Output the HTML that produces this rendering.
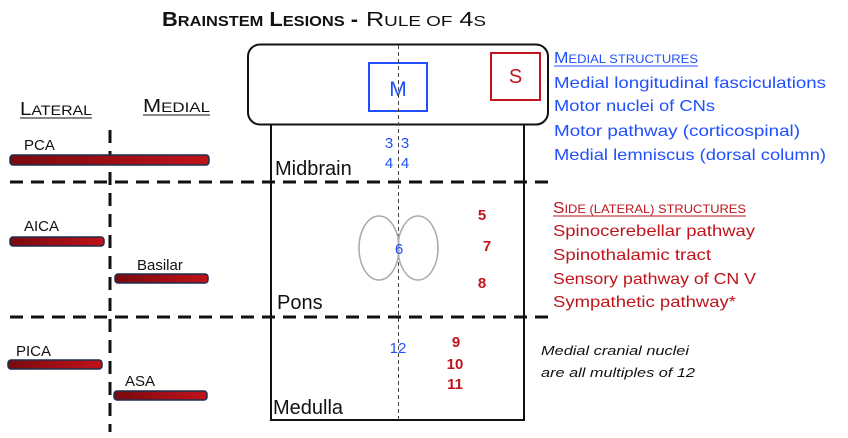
<!DOCTYPE html>
<html><head><meta charset="utf-8"><style>
html,body{margin:0;padding:0;background:#fff;}
svg{display:block;font-family:"Liberation Sans",sans-serif;}
</style></head><body>
<svg width="848" height="438" viewBox="0 0 848 438" xmlns="http://www.w3.org/2000/svg">
<defs>
<linearGradient id="g" x1="0" x2="1"><stop offset="0" stop-color="#7a0a0e"/><stop offset="1" stop-color="#c0121a"/></linearGradient>
</defs>
<!-- title -->
<text x="162" y="26" font-size="20" font-weight="bold" fill="#111" textLength="196" lengthAdjust="spacingAndGlyphs">B<tspan font-size="15">RAINSTEM</tspan> L<tspan font-size="15">ESIONS</tspan> -</text>
<text x="366" y="26" font-size="20" fill="#111" textLength="120" lengthAdjust="spacingAndGlyphs">R<tspan font-size="15">ULE OF</tspan> 4<tspan font-size="15">S</tspan></text>

<!-- rounded top box -->
<rect x="248" y="44.5" width="300" height="80" rx="12" fill="none" stroke="#111" stroke-width="2"/>
<rect x="369" y="63" width="58" height="48" fill="none" stroke="#1f4fff" stroke-width="2"/>
<text x="398" y="96" font-size="21" fill="#1f4fff" text-anchor="middle">M</text>
<rect x="491" y="53" width="49" height="47" fill="none" stroke="#c0141c" stroke-width="2"/>
<text x="515.5" y="83" font-size="20" fill="#c0141c" text-anchor="middle">S</text>

<!-- main box -->
<path d="M271 125 V420 H524 V125" fill="none" stroke="#111" stroke-width="2"/>
<!-- center dashed -->
<line x1="398.5" y1="45" x2="398.5" y2="420" stroke="#444" stroke-width="1" stroke-dasharray="4,3"/>

<!-- horizontal dashed -->
<line x1="10" y1="182" x2="548" y2="182" stroke="#111" stroke-width="3" stroke-dasharray="13,8"/>
<line x1="10" y1="317" x2="548" y2="317" stroke="#111" stroke-width="3" stroke-dasharray="13,8"/>
<!-- vertical dashed -->
<line x1="110" y1="130" x2="110" y2="432" stroke="#111" stroke-width="3" stroke-dasharray="13,8"/>

<!-- labels lateral/medial -->
<text x="20" y="115" font-size="18" fill="#111" textLength="72" lengthAdjust="spacingAndGlyphs">L<tspan font-size="14">ATERAL</tspan></text>
<line x1="20" y1="118" x2="92" y2="118" stroke="#111" stroke-width="1"/>
<text x="143" y="112" font-size="18" fill="#111" textLength="67" lengthAdjust="spacingAndGlyphs">M<tspan font-size="14">EDIAL</tspan></text>
<line x1="143" y1="115" x2="210" y2="115" stroke="#111" stroke-width="1"/>

<!-- bars -->
<g stroke="#1e2f4d" stroke-width="1.5" fill="url(#g)">
<rect x="10" y="155" width="199" height="10" rx="3"/>
<rect x="10" y="237" width="94" height="9" rx="3"/>
<rect x="115" y="274" width="93" height="9" rx="3"/>
<rect x="8" y="360" width="94" height="9" rx="3"/>
<rect x="114" y="391" width="93" height="9" rx="3"/>
</g>
<g font-size="15" fill="#111">
<text x="24" y="150">PCA</text>
<text x="24" y="231">AICA</text>
<text x="137" y="270">Basilar</text>
<text x="16" y="356">PICA</text>
<text x="125" y="386">ASA</text>
</g>

<!-- region names -->
<g font-size="20" fill="#111">
<text x="275" y="175">Midbrain</text>
<text x="277" y="309">Pons</text>
<text x="273" y="414">Medulla</text>
</g>

<!-- ellipses -->
<ellipse cx="379" cy="248" rx="20" ry="32" fill="none" stroke="#aaa" stroke-width="1.5"/>
<ellipse cx="418" cy="248" rx="20" ry="32" fill="none" stroke="#aaa" stroke-width="1.5"/>

<!-- blue numbers -->
<g font-size="15" fill="#1f4fff" text-anchor="middle">
<text x="389" y="148">3</text><text x="405" y="148">3</text>
<text x="389" y="168">4</text><text x="405" y="168">4</text>
<text x="399" y="254">6</text>
<text x="398" y="353">12</text>
</g>
<!-- red numbers -->
<g font-size="15" font-weight="bold" fill="#c0141c" text-anchor="middle">
<text x="482" y="220">5</text>
<text x="487" y="251">7</text>
<text x="482" y="288">8</text>
<text x="456" y="347">9</text>
<text x="455" y="369">10</text>
<text x="455" y="389">11</text>
</g>

<!-- medial structures -->
<g font-size="16" fill="#1f4fff">
<text x="554" y="63" textLength="144" lengthAdjust="spacingAndGlyphs">M<tspan font-size="12">EDIAL STRUCTURES</tspan></text>
<text x="554" y="88" textLength="272" lengthAdjust="spacingAndGlyphs">Medial longitudinal fasciculations</text>
<text x="554" y="111" textLength="161" lengthAdjust="spacingAndGlyphs">Motor nuclei of CNs</text>
<text x="554" y="136" textLength="246" lengthAdjust="spacingAndGlyphs">Motor pathway (corticospinal)</text>
<text x="554" y="160" textLength="272" lengthAdjust="spacingAndGlyphs">Medial lemniscus (dorsal column)</text>
</g>
<line x1="554" y1="66" x2="698" y2="66" stroke="#1f4fff" stroke-width="1"/>
<g font-size="16" fill="#c0141c">
<text x="553" y="213" textLength="193" lengthAdjust="spacingAndGlyphs">S<tspan font-size="12">IDE (LATERAL) STRUCTURES</tspan></text>
<text x="553" y="236" textLength="202" lengthAdjust="spacingAndGlyphs">Spinocerebellar pathway</text>
<text x="553" y="260" textLength="158" lengthAdjust="spacingAndGlyphs">Spinothalamic tract</text>
<text x="553" y="284" textLength="203" lengthAdjust="spacingAndGlyphs">Sensory pathway of CN V</text>
<text x="553" y="307" textLength="183" lengthAdjust="spacingAndGlyphs">Sympathetic pathway*</text>
</g>
<line x1="553" y1="216" x2="746" y2="216" stroke="#c0141c" stroke-width="1"/>
<g font-size="13" font-style="italic" fill="#111">
<text x="541" y="355" textLength="148" lengthAdjust="spacingAndGlyphs">Medial cranial nuclei</text>
<text x="541" y="377" textLength="154" lengthAdjust="spacingAndGlyphs">are all multiples of 12</text>
</g>
</svg>
</body></html>
